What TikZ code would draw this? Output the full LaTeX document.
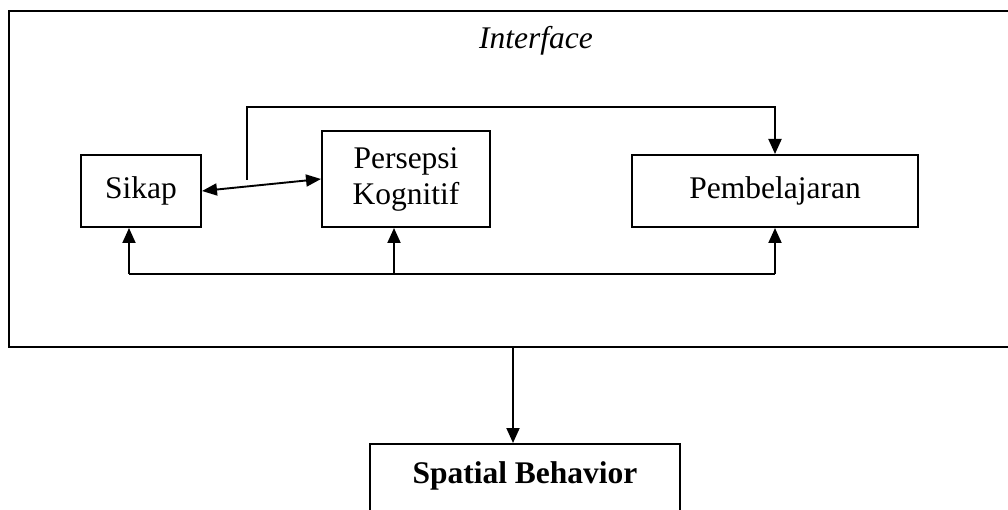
\documentclass[tikz,border=0pt]{standalone}
\usepackage{fontspec}
\setmainfont{Liberation Serif}
\usetikzlibrary{arrows.meta}
\begin{document}
\begin{tikzpicture}[x=1pt,y=-1pt,
  box/.style={draw,line width=2pt,rectangle,inner sep=0pt,align=center,
    font=\fontsize{31.5}{36}\selectfont},
  conn/.style={line width=1.9pt},
  tip/.style={-{Triangle[length=15pt,width=13pt]}},
  dtip/.style={{Triangle[length=15pt,width=12pt]}-{Triangle[length=15pt,width=12pt]}}]
\useasboundingbox (0,0) rectangle (1008,510);
\clip (0,0) rectangle (1008,510);
\fill[white] (0,0) rectangle (1008,510);
% outer interface box
\node[draw,line width=2pt,minimum width=1011pt,minimum height=336pt,inner sep=0pt] (outer) at (514.5,179) {};
\node[font=\fontsize{31.5}{36}\selectfont\itshape] (iface) at (536,41) {Interface};
% inner boxes
\node[box,minimum width=120pt,minimum height=72pt] (sikap) at (141,191) {Sikap};
\node[box,minimum width=168pt,minimum height=96pt] (persepsi) at (406,179) {Persepsi\\Kognitif};
\node[box,minimum width=286pt,minimum height=72pt] (pemb) at (775,191) {Pembelajaran};
\node[draw,line width=2pt,minimum width=310pt,text height=30pt,text depth=40pt,inner sep=9pt,
  font=\fontsize{31.5}{36}\selectfont\bfseries,anchor=north] (sb) at (525,443) {Spatial Behavior};
% coordinates
\coordinate (fb) at (247,180);
\coordinate (b1) at (129,274);
\coordinate (b2) at (394,274);
\coordinate (b3) at (775,274);
\coordinate (d) at (513,347);
% connectors
\draw[conn,dtip] (sikap.east) -- (persepsi.west);
\draw[conn,tip] (fb) -- (fb |- 0,107) -- (pemb.north |- 0,107) -- (pemb.north);
\draw[conn] (b1) -- (b3);
\draw[conn,tip] (b1) -- (b1 |- sikap.south);
\draw[conn,tip] (b2) -- (b2 |- persepsi.south);
\draw[conn,tip] (b3) -- (pemb.south);
\draw[conn,tip] (d) -- (d |- sb.north);
\end{tikzpicture}
\end{document}
